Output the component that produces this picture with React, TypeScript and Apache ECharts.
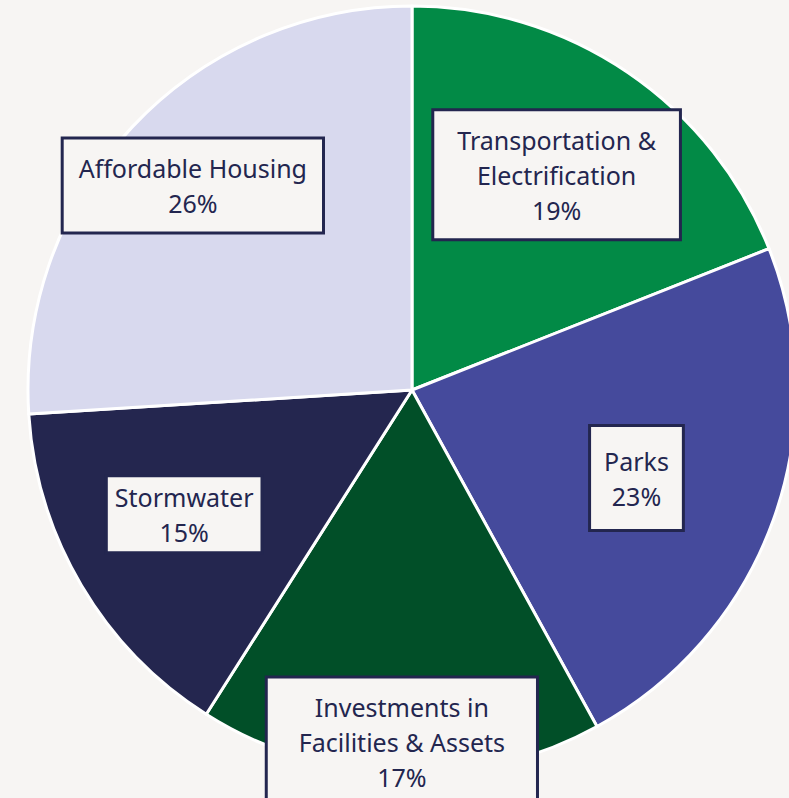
import React, { useEffect, useRef } from "react";
import * as echarts from "echarts";

const categories = [
  "Transportation &\nElectrification",
  "Parks",
  "Investments in\nFacilities & Assets",
  "Stormwater",
  "Affordable Housing",
];
const shares = [19, 23, 17, 15, 26];

const sliceColors = ["#028A46", "#454A9C", "#014F28", "#24264F", "#D8D9EE"];
// label box paddings [top, right, bottom, left]
const labelPaddings = [
  [11, 23, 11, 23],
  [16, 13, 16, 13],
  [12, 31, 10, 31],
  [2, 7, 2, 7],
  [11, 15, 11, 15],
];
// nudges from the default inside-label position
const labelShifts = [
  [35, -54],
  [41, 22],
  [-4, 157],
  [-60, 25],
  [-77, -71],
];

export default function App() {
  const ref = useRef<HTMLDivElement>(null);
  useEffect(() => {
    if (!ref.current) return;
    const chart = echarts.init(ref.current, null, { renderer: "svg" });
    chart.setOption({
      animation: false,
      backgroundColor: "#F7F5F3",
      series: [
        {
          type: "pie",
          center: [412, 390],
          radius: [0, 384],
          startAngle: 90,
          clockwise: true,
          avoidLabelOverlap: false,
          itemStyle: { borderColor: "#FFFFFF", borderWidth: 3 },
          label: {
            show: true,
            position: "inside",
            formatter: "{b}\n{c}%",
            fontFamily: "Noto Sans",
            fontSize: 25,
            lineHeight: 35,
            color: "#23264F",
            backgroundColor: "#F7F5F3",
            borderColor: "#23264F",
            borderWidth: 3,
            align: "center",
            verticalAlign: "middle",
          },
          labelLine: { show: false },
          labelLayout: (params: any) => {
            const s = labelShifts[params.dataIndex];
            return { dx: s[0], dy: s[1] };
          },
          data: categories.map((name, i) => ({
            name,
            value: shares[i],
            itemStyle: { color: sliceColors[i] },
            label: { padding: labelPaddings[i] },
          })),
        },
      ],
    });
    return () => chart.dispose();
  }, []);
  return (
    <div
      ref={ref}
      style={{ position: "fixed", left: 0, top: 0, width: 789, height: 798, background: "#F7F5F3" }}
    />
  );
}
